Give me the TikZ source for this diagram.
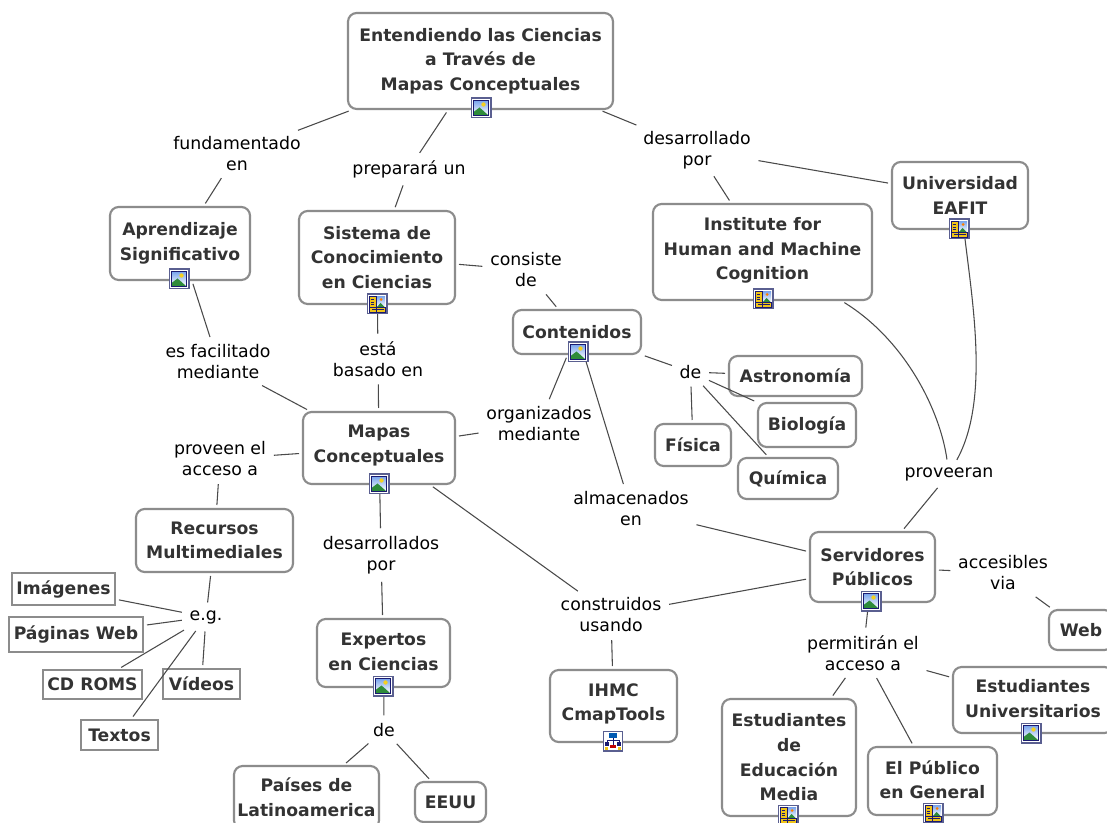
\documentclass[tikz,border=0pt]{standalone}
\usepackage{fontspec}
\setmainfont{DejaVu Sans}
\definecolor{edgec}{HTML}{8C8C8C}
\definecolor{textc}{HTML}{333333}
\definecolor{linec}{HTML}{4A4A4A}
\definecolor{framec}{HTML}{5A5F90}
\definecolor{navyc}{HTML}{1A1A70}
\definecolor{skyc}{HTML}{7FA8EC}
\definecolor{hillc}{HTML}{2E8B3A}
\definecolor{sunc}{HTML}{F5D020}
\definecolor{docc}{HTML}{EFC418}
\newcommand{\lft}[1]{\rule[-#1pt]{0pt}{0pt}}
\tikzset{
  sz/.style 2 args={minimum width=#1*0.75pt,minimum height=#2*0.75pt},
  concept/.style={draw=edgec,line width=1.6pt,rounded corners=6.5pt,align=center,text=textc,inner sep=0pt,
    font=\fontsize{12.9}{18.5}\selectfont\bfseries},
  plainbox/.style={concept,rounded corners=0pt},
  linking/.style={align=center,text=black,inner xsep=3.5pt,inner ysep=3.5pt,
    font=\fontsize{13}{15.75}\selectfont},
  conn/.style={draw=linec,line width=0.8pt,shorten >=2.2pt,shorten <=2.2pt},
  iconbase/.pic={
    \fill[framec] (-10.5,-10.5) rectangle (10.5,10.5);
    \fill[white] (-9,-9) rectangle (9,9);
  },
  imgicon/.pic={
    \pic {iconbase};
    \fill[navyc] (-8,-8) rectangle (8,8);
    \shade[top color=skyc,bottom color=white] (-6.8,-6.8) rectangle (6.8,6.8);
    \fill[sunc] (2.5,-3.5) circle (2.2);
    \fill[hillc] (-6.8,6.8) -- (-6.8,3.5) -- (-1.5,-0.5) -- (2,2.5) -- (6.8,6.8) -- cycle;
  },
  docicon/.pic={
    \pic {iconbase};
    \fill[docc] (-8,-7.5) rectangle (-1,8);
    \fill[docc] (-8,3.5) rectangle (8,8);
    \shade[top color=skyc,bottom color=white] (-0.5,-7.5) rectangle (8,3);
    \fill[orange] (4,-4.5) circle (1.5);
    \fill[hillc] (0,3) -- (3.5,-1) -- (7.5,3) -- cycle;
    \draw[navyc,line width=0.45pt] (-8,-7.5) rectangle (-1,8) (-6.5,-4.5) -- (-3,-4.5) (-6.5,-2) -- (-3,-2) (-6.5,0.5) -- (-3,0.5) (-8,3.5) rectangle (8,8) (-5,5.7) -- (6.5,5.7);
  },
  mapicon/.pic={
    \fill[framec] (-10,-10.5) rectangle (10,10.5);
    \fill[white] (-8.8,-9.3) rectangle (8.8,9.3);
    \fill[blue!50!cyan!70!black] (-4,-8) rectangle (4,-3);
    \draw[navyc,line width=0.5pt] (0,-3) -- (0,4) (-6,1) -- (-6,-1) -- (6,-1) -- (6,1);
    \fill[navyc] (-8,1) rectangle (-4,5);
    \fill[navyc] (4,1) rectangle (8,5);
    \fill[red!75!black] (-3,4) rectangle (3,7);
    \fill[docc] (-8,6) rectangle (-5,8.5);
    \fill[docc] (5,6) rectangle (8,8.5);
  }
}
\begin{document}
\begin{tikzpicture}[x=0.75pt,y=-0.75pt]
\useasboundingbox (0,0) rectangle (1107,823);
\clip (0,0) rectangle (1107,823);
\fill[white] (0,0) rectangle (1107,823);
% concepts
\node[concept,sz={265}{96}] (top) at (480.5,61) {Entendiendo las Ciencias\\a Través de\\Mapas Conceptuales};
\node[concept,sz={140}{73}] (apr) at (180,243.5) {Aprendizaje\\Significativo\lft{3}};
\node[concept,sz={156}{93}] (sis) at (377,257.5) {Sistema de\\Conocimiento\\en Ciencias};
\node[concept,sz={136}{67}] (uni) at (960,195.5) {Universidad\\EAFIT};
\node[concept,sz={219}{96}] (ins) at (762.5,252) {Institute for\\Human and Machine\\Cognition\lft{5}};
\node[concept,sz={128}{44}] (con) at (577,332) {Contenidos};
\node[concept,sz={133}{40}] (ast) at (795.5,376) {Astronomía};
\node[concept,sz={98}{44}] (bio) at (807,425) {Biología};
\node[concept,sz={76}{42}] (fis) at (693,445) {Física};
\node[concept,sz={100}{41}] (qui) at (788,478.5) {Química};
\node[concept,sz={152}{72}] (map) at (379,448) {Mapas\\Conceptuales\lft{6}};
\node[concept,sz={157}{63}] (rec) at (214.5,540.5) {Recursos\\Multimediales};
\node[plainbox,sz={103}{32}] (img) at (63.5,589) {Imágenes};
\node[plainbox,sz={134}{35}] (pag) at (76,634.5) {Páginas Web};
\node[plainbox,sz={99}{29}] (cdr) at (92.5,684.5) {CD ROMS};
\node[plainbox,sz={77}{30}] (vid) at (201.5,684) {Vídeos};
\node[plainbox,sz={77}{30}] (tex) at (119.5,735) {Textos};
\node[concept,sz={133}{68}] (exp) at (383.5,653) {Expertos\\en Ciencias\lft{2}};
\node[concept,sz={145}{63}] (pai) at (306.5,797.5) {Países de\\Latinoamerica};
\node[concept,sz={71}{40}] (eeu) at (450.5,802) {EEUU};
\node[concept,sz={127}{72}] (ihm) at (613.5,706) {IHMC\\CmapTools\lft{6}};
\node[concept,sz={125}{70}] (ser) at (872.5,567) {Servidores\\Públicos};
\node[concept,sz={64}{40}] (web) at (1081,630) {Web};
\node[concept,sz={160}{66}] (eun) at (1033,700) {Estudiantes\\Universitarios\lft{2}};
\node[concept,sz={134}{117}] (eme) at (789,757.5) {Estudiantes\\de\\Educación\\Media};
\node[concept,sz={129}{68}] (pub) at (932.5,781) {El Público\\en General\lft{2}};
% linking phrases
\node[linking] (lfun) at (237,153.5) {fundamentado\\en};
\node[linking] (lpre) at (409,169) {preparará un};
\node[linking] (ldes) at (697,150) {desarrollado\\por};
\node[linking] (lcns) at (526,270) {consiste\\de};
\node[linking] (lfac) at (218,362) {es facilitado\\mediante};
\node[linking] (lest) at (378,359) {está\\basado en};
\node[linking] (lde1) at (690.5,372) {de};
\node[linking] (lorg) at (539,424) {organizados\\mediante};
\node[linking] (lpro) at (220,459) {proveen el\\acceso a};
\node[linking] (lalm) at (631,509) {almacenados\\en};
\node[linking] (lprv) at (949,474) {proveeran};
\node[linking] (lacc) at (1003,573) {accesibles\\via};
\node[linking] (ldds) at (381,555) {desarrollados\\por};
\node[linking] (leg) at (206,617) {e.g.};
\node[linking] (lcon) at (611,615) {construidos\\usando};
\node[linking] (lper) at (863,653) {permitirán el\\acceso a};
\node[linking] (lde2) at (384,730) {de};
% connectors
\draw[conn] (top) -- (lfun);
\draw[conn] (lfun) -- (apr);
\draw[conn] (top) -- (lpre);
\draw[conn] (lpre) -- (sis);
\draw[conn] (top) -- (ldes);
\draw[conn] (ldes) -- (ins);
\draw[conn] (ldes) -- (uni);
\draw[conn] (sis) -- (lcns);
\draw[conn] (lcns) -- (con);
\draw[conn] (apr) -- (lfac);
\draw[conn] (lfac) -- (map);
\draw[conn] (sis) -- (lest);
\draw[conn] (lest) -- (map);
\draw[conn] (con) -- (lde1);
\draw[conn] (lde1) -- (ast);
\draw[conn] (lde1) -- (bio);
\draw[conn] (lde1) -- (fis);
\draw[conn] (lde1) -- (qui);
\draw[conn] (con) -- (lorg);
\draw[conn] (lorg) -- (map);
\draw[conn] (map) -- (lpro);
\draw[conn] (lpro) -- (rec);
\draw[conn] (rec) -- (leg);
\draw[conn] (leg) -- (img);
\draw[conn] (leg) -- (pag);
\draw[conn] (leg) -- (cdr);
\draw[conn] (leg) -- (vid);
\draw[conn] (leg) -- (tex);
\draw[conn] (map) -- (ldds);
\draw[conn] (ldds) -- (exp);
\draw[conn] (exp) -- (lde2);
\draw[conn] (lde2) -- (pai);
\draw[conn] (lde2) -- (eeu);
\draw[conn] (map) -- (lcon);
\draw[conn] (lcon) -- (ser);
\draw[conn] (lcon) -- (ihm);
\draw[conn] (con) -- (lalm);
\draw[conn] (lalm) -- (ser);
\draw[conn] (ins) .. controls (905,340) and (940,410) .. (lprv);
\draw[conn] (uni) .. controls (972,300) and (990,400) .. (lprv);
\draw[conn] (lprv) -- (ser);
\draw[conn] (ser) -- (lacc);
\draw[conn] (lacc) -- (web);
\draw[conn] (ser) -- (lper);
\draw[conn] (lper) -- (eme);
\draw[conn] (lper) -- (pub);
\draw[conn] (lper) -- (eun);
% icons
\pic at (481,108) {imgicon};
\pic at (179,279) {imgicon};
\pic at (377,304) {docicon};
\pic at (959,229) {docicon};
\pic at (763,299) {docicon};
\pic at (578,352) {imgicon};
\pic at (379,484) {imgicon};
\pic at (383,686) {imgicon};
\pic at (871,601) {imgicon};
\pic at (1031,733) {imgicon};
\pic at (788,815) {docicon};
\pic at (933,813) {docicon};
\pic at (613,741) {mapicon};
\end{tikzpicture}
\end{document}
